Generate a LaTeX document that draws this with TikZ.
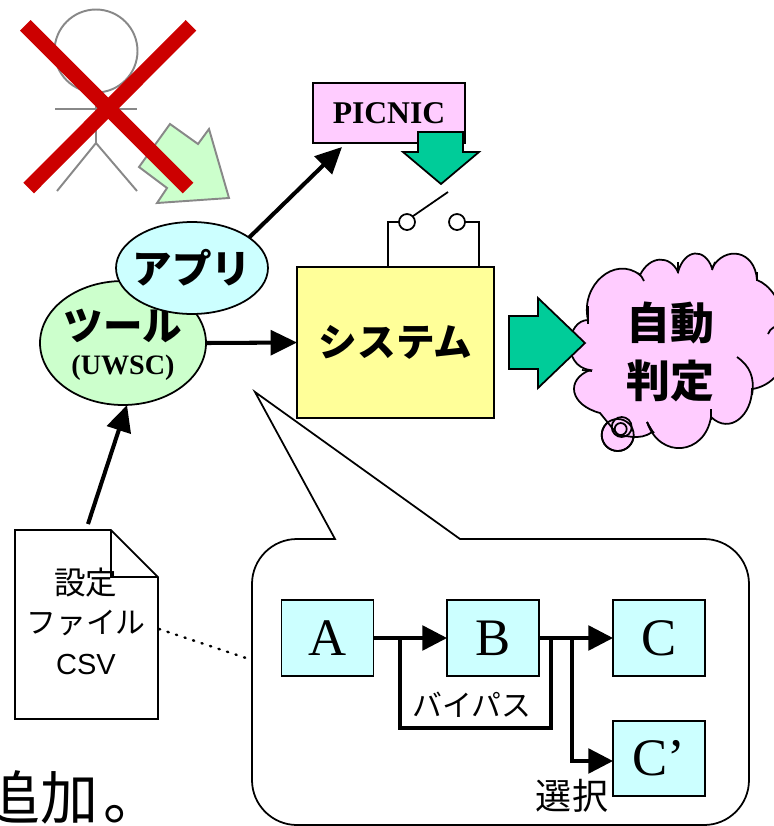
\documentclass[tikz,border=0pt]{standalone}
\usepackage{fontspec}
\setmainfont{Liberation Serif}
\newfontfamily\jpfont{Noto Sans CJK JP}
\newfontfamily\csvfont{Liberation Sans}
\usetikzlibrary{arrows.meta,shapes.geometric}
\definecolor{palepink}{HTML}{FFCCFF}
\definecolor{palecyan}{HTML}{CCFFFF}
\definecolor{palegreen}{HTML}{CCFFCC}
\definecolor{paleyellow}{HTML}{FFFF99}
\definecolor{tealfill}{HTML}{00CC99}
\definecolor{crossred}{HTML}{CC0000}
\definecolor{stickgray}{HTML}{888888}
\tikzset{
  shapeline/.style={draw=black,line width=1pt,inner sep=0pt,outer sep=0pt},
  stageBox/.style={shapeline,fill=palecyan,minimum width=1.84cm,minimum height=1.51cm,font=\fontsize{30}{34}\selectfont},
  thinline/.style={line width=1pt},
  stickline/.style={stickgray,line width=1.1pt},
  flowline/.style={line width=2pt},
  flowarrow/.style={line width=2pt,-{Triangle[length=14pt,width=14pt]}},
  mainarrow/.style={line width=2.3pt,-{Triangle[length=15pt,width=14pt]}},
  bigarrow/.style={draw=black,line width=1pt,fill=tealfill},
  jplabel/.style={inner sep=0pt,align=center}
}
\begin{document}
\begin{tikzpicture}[x=0.02cm,y=-0.02cm]
  \useasboundingbox (0,0) rectangle (774,826);
  % person and cross
  \draw[stickline] (96,51) circle(0.83cm);
  \draw[stickline] (55,108.7) -- (137,108.7);
  \draw[stickline] (96,92) -- (96,143);
  \draw[stickline] (57,191) -- (96,143) -- (137,191);
  \draw[stickline,fill=palegreen] (170,124) -- (198,144) -- (209,129) -- (229,198) -- (157,203) -- (167,188) -- (139,167) -- cycle;
  \draw[crossred,line width=8.5pt] (25.3,25.3) -- (188,188);
  \draw[crossred,line width=8.5pt] (191,25.3) -- (28.7,188);
  % tool side
  \node[shapeline,ellipse,fill=palegreen,minimum width=3.32cm,minimum height=2.48cm] (tool) at (123,343) {};
  \node[jplabel,font=\jpfont\bfseries\fontsize{22.5}{26}\selectfont] (toollabel) at (123,326) {ツール};
  \node[jplabel,font=\bfseries\fontsize{16}{19}\selectfont] (uwsc) at (123,368) {(UWSC)};
  \node[shapeline,ellipse,fill=palecyan,minimum width=3.04cm,minimum height=1.84cm] (apuri) at (192,268) {};
  \node[jplabel,font=\jpfont\bfseries\fontsize{22.5}{26}\selectfont] (apurilabel) at (192,268) {アプリ};
  % picnic and switch
  \node[shapeline,fill=palepink,minimum width=3.04cm,minimum height=1.21cm,font=\bfseries\fontsize{18}{22}\selectfont] (picnic) at (389,113) {PICNIC};
  \draw[bigarrow] (418,132) -- (463,132) -- (463,152) -- (479,152) -- (441,184) -- (403,152) -- (418,152) -- cycle;
  \node[shapeline,fill=paleyellow,minimum width=3.94cm,minimum height=3.02cm,font=\jpfont\bfseries\fontsize{22}{26}\selectfont] (system) at (395.5,342.5) {システム};
  \node[shapeline,circle,minimum size=0.32cm] (swleft) at (407,222) {};
  \node[shapeline,circle,minimum size=0.32cm] (swright) at (457,222) {};
  \coordinate (wireleft) at (388,267);
  \coordinate (wireright) at (479,267);
  \coordinate (leverend) at (448,192);
  \draw[thinline] (wireleft) |- (swleft);
  \draw[thinline] (wireright) |- (swright);
  \draw[thinline] (swleft.north east) -- (leverend);
  % cloud
  \fill[palepink,draw=black,line width=1pt] (617.7,435) circle(0.32cm);
  \draw[thinline,fill=palepink] (588,320) .. controls (580,285) and (615,255) .. (640,275)
    .. controls (650,255) and (670,255) .. (678,272)
    .. controls (685,248) and (705,248) .. (712,268)
    .. controls (725,245) and (755,250) .. (757,280)
    .. controls (770,285) and (780,300) .. (785,320)
    -- (790,375) -- (774,378) .. controls (768,384) and (760,388) .. (752,389)
    .. controls (752,415) and (730,435) .. (711,417)
    .. controls (705,455) and (660,460) .. (647,422)
    .. controls (650,428) and (652,430) .. (652,432)
    .. controls (645,437) and (640,437) .. (633,437)
    -- (618,435) -- (600,413)
    .. controls (570,405) and (565,380) .. (590,370)
    .. controls (575,368) and (570,355) .. (570,345)
    .. controls (570,330) and (578,320) .. (588,320) -- cycle;
  \draw[thinline] (638,273) .. controls (641,276) and (643,278) .. (644,281);
  \draw[thinline] (678,262) -- (678,273);
  \draw[thinline] (715,262) -- (712,270);
  \draw[thinline] (757,272) -- (757,281);
  \draw[thinline] (588,306) -- (588,324);
  \draw[thinline] (582,370) -- (592,371);
  \draw[thinline] (774,327) .. controls (771,329) and (769,331) .. (768,334);
  \draw[thinline] (737,357) .. controls (750,366) and (755,378) .. (752,395);
  \draw[thinline] (711,409) -- (711,420);
  \draw[thinline] (647,422) .. controls (650,428) and (652,431) .. (654,433);
  \draw[thinline] (617.7,435) circle(0.32cm);
  \draw[thinline] (621.7,427) circle(0.2cm);
  \draw[thinline] (620.7,429) circle(0.12cm);
  \node[jplabel,font=\jpfont\bfseries\fontsize{25}{28}\selectfont] (judgeup) at (670,323) {自動};
  \node[jplabel,font=\jpfont\bfseries\fontsize{25}{28}\selectfont] (judgelow) at (670,381) {判定};
  \draw[bigarrow] (509,316) -- (538,316) -- (538,298) -- (585,343) -- (538,388) -- (538,369) -- (509,369) -- cycle;
  % settings file
  \draw[thinline,fill=white] (15,530) -- (111,530) -- (158,577) -- (158,719) -- (15,719) -- cycle;
  \draw[thinline] (111,530) -- (111,577) -- (158,577);
  \node[jplabel,font=\jpfont\fontsize{18}{20}\selectfont] (fileone) at (86,583) {設定};
  \node[jplabel,font=\jpfont\fontsize{17}{20}\selectfont] (filetwo) at (86,623) {ファイル};
  \node[jplabel,font=\csvfont\fontsize{16.5}{20}\selectfont] (filecsv) at (86,665) {CSV};
  % arrows between the blocks
  \coordinate (picnicin) at (342,147);
  \coordinate (filetop) at (88,524);
  \coordinate (toolin) at (127,405);
  \draw[mainarrow] (apuri.28) -- (picnicin);
  \draw[mainarrow] (tool.east) -- (system.west);
  \draw[mainarrow] (filetop) -- (toolin);
  % callout
  \draw[thinline,fill=white] (460,539) [rounded corners=0.9cm] -- (749,539) -- (749,825) -- (252,825) -- (252,539) [sharp corners] -- (335,539) -- (255,392) -- cycle;
  \coordinate (fileside) at (159,629);
  \coordinate (calloutside) at (249,659);
  \draw[line width=1.4pt,line cap=round,dash pattern=on 0.7pt off 4.4pt] (fileside) -- (calloutside);
  \node[stageBox] (A) at (327.5,638) {A};
  \node[stageBox] (B) at (493,638) {B};
  \node[stageBox] (C) at (659,638) {C};
  \node[stageBox,minimum height=1.5cm] (Cdash) at (659,758.5) {C’};
  \coordinate (bypassin) at (400,638);
  \coordinate (bypassout) at (551,638);
  \coordinate (bypassinlow) at (400,728);
  \coordinate (bypassoutlow) at (551,728);
  \coordinate (branch) at (572,638);
  \coordinate (branchlow) at (572,761);
  \coordinate (Cdashin) at (613,761);
  \draw[flowarrow] (A.east) -- (B.west);
  \draw[flowarrow] (B.east) -- (C.west);
  \draw[flowline] (bypassin) -- (bypassinlow) -- (bypassoutlow) -- (bypassout);
  \draw[flowarrow] (branch) -- (branchlow) -- (Cdashin);
  \node[jplabel,font=\jpfont\fontsize{17}{20}\selectfont] (bypass) at (472,705) {バイパス};
  \node[jplabel,font=\jpfont\fontsize{20.5}{22}\selectfont] (choice) at (572,796) {選択};
  % text cut off at the edge
  \node[anchor=west,inner sep=0pt,font=\jpfont\fontsize{33}{36}\selectfont] (addtext) at (-18,797) {追加\hspace{3pt}。};
\end{tikzpicture}
\end{document}
